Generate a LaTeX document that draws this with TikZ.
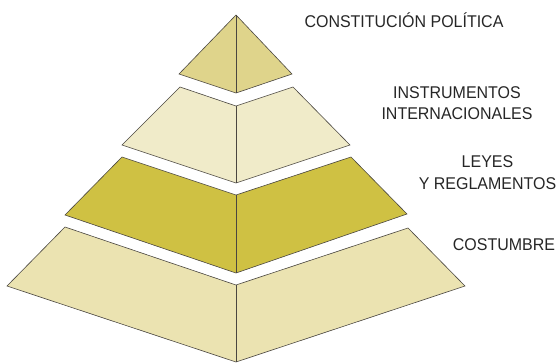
\documentclass[tikz,border=0pt]{standalone}
\usepackage{fontspec}
\setmainfont{Liberation Sans}
\newfontfamily\lblfont[FakeStretch=0.94]{Liberation Sans}
\definecolor{tierA}{HTML}{DFD48B}
\definecolor{tierB}{HTML}{F0EBC9}
\definecolor{tierC}{HTML}{CFC143}
\definecolor{tierD}{HTML}{EBE3B1}
\definecolor{edge}{HTML}{4A4640}
\tikzset{
  face/.style={draw=edge, line width=0.6pt, line join=miter},
  ridge/.style={draw=edge, line width=0.7pt},
  lbl/.style={font=\lblfont\fontsize{17}{21.5}\selectfont, text=black!85, align=center, inner sep=0pt}
}
\begin{document}
\begin{tikzpicture}[x=1pt,y=-1pt]
\useasboundingbox (0,0) rectangle (557,362);
% tier 1 (apex)
\coordinate (a1) at (236,15);
\coordinate (a2) at (292,74);
\coordinate (a3) at (236,93);
\coordinate (a4) at (179,74);
\filldraw[face, fill=tierA] (a1) -- (a2) -- (a3) -- (a4) -- cycle;
\draw[ridge] (a1) -- (a3);
% tier 2
\coordinate (b1) at (180,87);
\coordinate (b2) at (236,106);
\coordinate (b3) at (293,87);
\coordinate (b4) at (350,145);
\coordinate (b5) at (236,183);
\coordinate (b6) at (122,145);
\filldraw[face, fill=tierB] (b1) -- (b2) -- (b3) -- (b4) -- (b5) -- (b6) -- cycle;
\draw[ridge] (b2) -- (b5);
% tier 3
\coordinate (c1) at (122,157);
\coordinate (c2) at (236,195);
\coordinate (c3) at (351,157);
\coordinate (c4) at (407,214);
\coordinate (c5) at (236,273);
\coordinate (c6) at (65,215);
\filldraw[face, fill=tierC] (c1) -- (c2) -- (c3) -- (c4) -- (c5) -- (c6) -- cycle;
\draw[ridge] (c2) -- (c5);
% tier 4
\coordinate (d1) at (65,227);
\coordinate (d2) at (236,285);
\coordinate (d3) at (408,228);
\coordinate (d4) at (465,286);
\coordinate (d5) at (236,362);
\coordinate (d6) at (7,286);
\filldraw[face, fill=tierD] (d1) -- (d2) -- (d3) -- (d4) -- (d5) -- (d6) -- cycle;
\draw[ridge] (d2) -- (d5);
% labels
\node[lbl] (l1) at (404,20.5) {CONSTITUCIÓN POLÍTICA};
\node[lbl] (l2) at (457,103) {INSTRUMENTOS\\INTERNACIONALES};
\node[lbl] (l3) at (487.5,172.5) {LEYES\\Y REGLAMENTOS};
\node[lbl] (l4) at (504,244.5) {COSTUMBRE};
\end{tikzpicture}
\end{document}
